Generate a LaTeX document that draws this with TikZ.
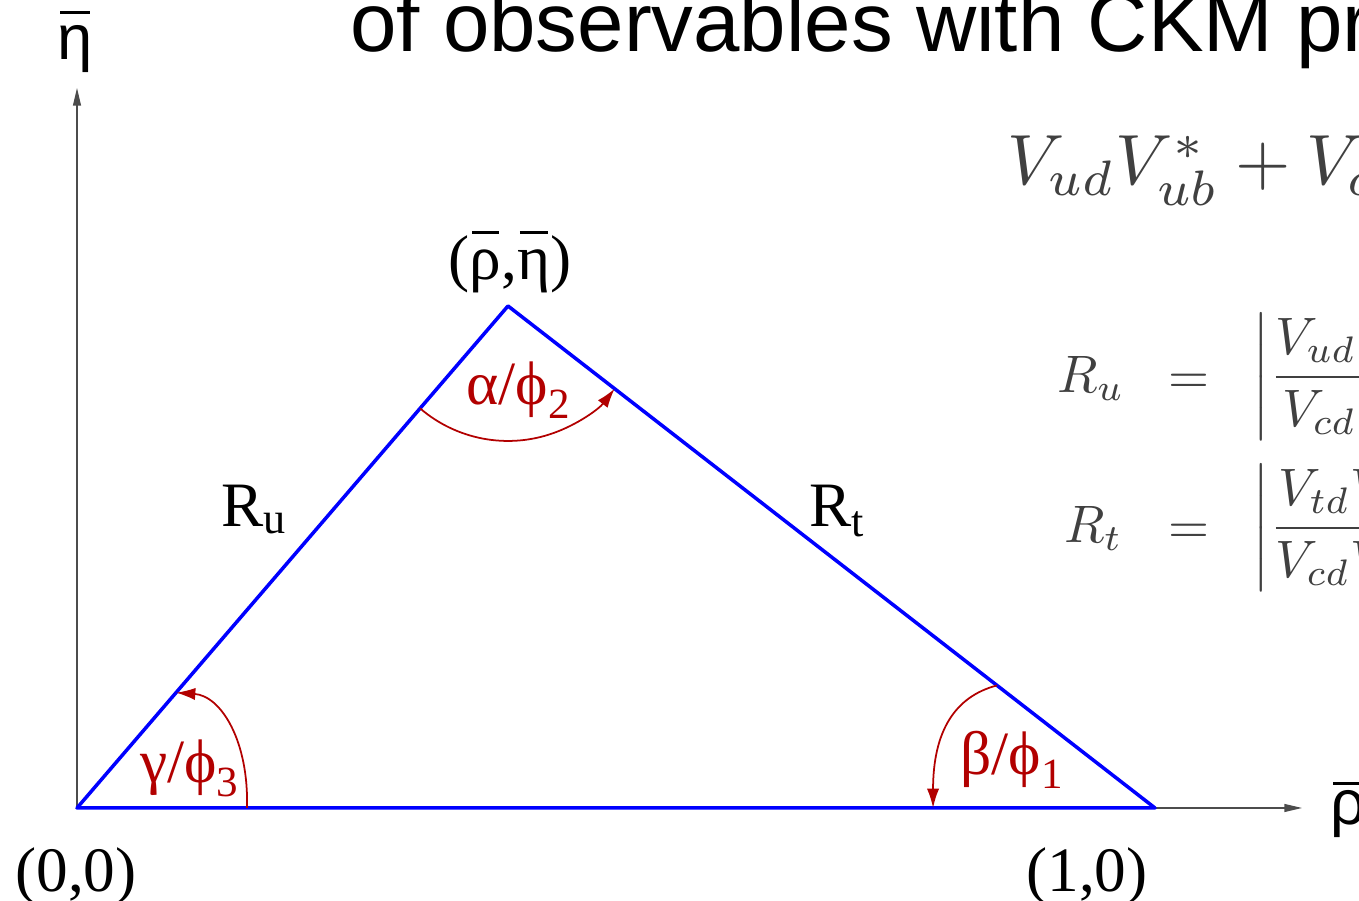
\documentclass[tikz,border=0pt]{standalone}
\usepackage{fontspec}
\setmainfont{Liberation Serif}
\newfontfamily\headfont{Liberation Sans}
\usetikzlibrary{arrows.meta,calc}
\newcommand{\barred}[2][0.72em]{\setbox0\hbox{#2}\rlap{\kern0.08\wd0\rule[#1]{0.84\wd0}{0.05em}}\box0}
\tikzset{
  side/.style={draw=blue, line width=2pt, line join=round},
  axis/.style={-{Triangle[length=10pt,width=4.5pt]}, draw=black!70, line width=0.7pt},
  anglearrow/.style={-{Latex[length=11pt,width=7pt]}, draw=red!70!black, line width=1pt},
  anglelabel/.style={text=red!70!black, font=\fontsize{35}{40}\selectfont, inner sep=0pt},
  cornerlabel/.style={font=\fontsize{36}{40}\selectfont, inner sep=0pt},
  axislabel/.style={font=\headfont\fontsize{36}{40}\selectfont, inner sep=0pt},
  eqtext/.style={text=black!75, font=\fontsize{10}{12}\selectfont, inner sep=0pt, scale=3}
}
\begin{document}
\begin{tikzpicture}[x=0.02cm, y=0.02cm]
  \useasboundingbox (0,0) rectangle (1359,901);
  \clip (0,0) rectangle (1359,901);
  \coordinate (O) at (77,93);
  \coordinate (A) at (508,595);
  \coordinate (B) at (1155,93);
  \coordinate (ytip) at (77,813);
  \coordinate (xtip) at (1302,93);
  \draw[axis] (O) -- (ytip);
  \draw[axis] (O) -- (xtip);
  \draw[side] (O) -- (A) -- (B) -- cycle;

  \coordinate (a1) at ($(A)!2.7cm!(O)$);
  \draw[anglearrow] (a1) arc[start angle=229.35, end angle=322.2, radius=2.7cm];
  \coordinate (g1) at ($(O)!3.4cm!(B)$);
  \coordinate (g2) at ($(O)!3.04cm!(A)$);
  \draw[anglearrow] (g1) .. controls +(2,67) and +(45,-3) .. (g2);
  \coordinate (b1) at ($(B)!4cm!(A)$);
  \coordinate (b2) at ($(B)!4.44cm!(O)$);
  \draw[anglearrow] (b1) .. controls +(-42,-11) and +(0,77) .. (b2);

  \node[anglelabel, anchor=base west] (alphalabel) at (466,496) {α/ϕ\textsubscript{2}};
  \node[anglelabel, anchor=base west] (gammalabel) at (140,118) {γ/ϕ\textsubscript{3}};
  \node[anglelabel, anchor=base west] (betalabel) at (960,126) {β/ϕ\textsubscript{1}};

  \node[axislabel, anchor=base] (etaaxis) at (75,841) {\barred{η}};
  \node[axislabel, anchor=base west] (rhoaxis) at (1330,76) {\barred[0.63em]{ρ}};
  \node[cornerlabel, anchor=base] (apexlabel) at (510,621) {(\barred{ρ},\barred{η})};
  \node[cornerlabel, anchor=base] (originlabel) at (76,9) {(0,0)};
  \node[cornerlabel, anchor=base] (onelabel) at (1087,9) {(1,0)};
  \node[cornerlabel, anchor=base west] (rulabel) at (221,374) {R\textsubscript{u}};
  \node[cornerlabel, anchor=base west] (rtlabel) at (809,374) {R\textsubscript{t}};

  \node[font=\headfont\fontsize{47.5}{52}\selectfont, anchor=base west, inner sep=0pt] (title) at (350,849) {of observables with CKM pr};
  \node[eqtext, scale=1.35, anchor=base west] (unitarity) at (1006,716) {$V_{ud}V_{ub}^*+V_{cd}V_{cb}^*$};
  \node[eqtext, anchor=base west] (rulhs) at (1056,508) {$R_u$};
  \node[eqtext, anchor=base west] (rueq) at (1167,507) {$=$};
  \node[eqtext, anchor=west] (rurhs) at (1251,523) {$\left|\displaystyle\frac{V_{ud}V_{ub}^*}{V_{cd}V_{cb}^*}\right|$};
  \node[eqtext, anchor=base west] (rtlhs) at (1063,358) {$R_t$};
  \node[eqtext, anchor=base west] (rteq) at (1167,357) {$=$};
  \node[eqtext, anchor=west] (rtrhs) at (1251,372) {$\left|\displaystyle\frac{V_{td}V_{tb}^*}{V_{cd}V_{cb}^*}\right|$};
\end{tikzpicture}
\end{document}
